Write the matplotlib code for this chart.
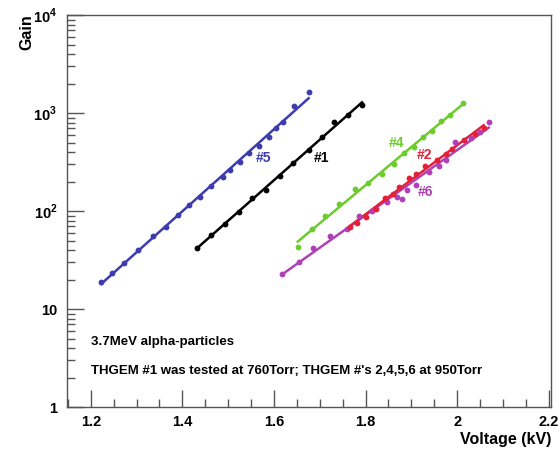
import numpy as np
import matplotlib
matplotlib.use("Agg")
import matplotlib.pyplot as plt
from matplotlib.ticker import FixedLocator, MultipleLocator, NullFormatter

plt.rcParams['font.family'] = ['Liberation Sans', 'DejaVu Sans']
plt.rcParams['mathtext.fontset'] = 'custom'
plt.rcParams['mathtext.rm'] = 'Liberation Sans:bold'
plt.rcParams['mathtext.bf'] = 'Liberation Sans:bold'

# THGEM #5
v5 = [1.2225, 1.2458, 1.2735, 1.3027, 1.3369, 1.3646, 1.3915, 1.4155, 1.4389, 1.4630,
      1.4877, 1.5045, 1.5248, 1.5446, 1.5679, 1.5883, 1.6051, 1.6197, 1.6444, 1.6757]
g5 = [19.0, 23.5, 29.2, 40, 55.6, 69, 91, 115, 140, 180,
      221, 262, 318, 387, 464, 573, 698, 817, 1178, 1650]

# THGEM #1
v1 = [1.4316, 1.4630, 1.4936, 1.5226, 1.5519, 1.5832, 1.6123, 1.6415, 1.6772, 1.7049,
      1.7318, 1.7617, 1.7923]
g1 = [42.2, 56.9, 73, 98.4, 134.6, 164, 228, 311, 419, 573, 804, 955, 1208]

# THGEM #4
v4 = [1.652, 1.683, 1.711, 1.741, 1.778, 1.806, 1.836, 1.862, 1.885, 1.905,
      1.925, 1.945, 1.965, 1.985, 2.013]
g4 = [43, 65, 88, 118, 167, 191, 237, 305, 395, 455, 570, 660, 820, 950, 1260]

# THGEM #2
v2 = [1.765, 1.782, 1.800, 1.822, 1.843, 1.860, 1.872, 1.894, 1.910, 1.929,
      1.956, 1.975, 1.989, 2.015, 2.040, 2.058]
g2 = [68, 76, 86, 106, 135, 150, 177, 215, 240, 288, 331, 385, 426, 530, 610, 700]

# THGEM #6
v6 = [1.617, 1.654, 1.685, 1.723, 1.760, 1.785, 1.815, 1.847, 1.868, 1.880,
      1.891, 1.910, 1.938, 1.960, 1.975, 1.996, 2.030, 2.050, 2.069]
g6 = [23, 30, 42, 56, 66, 88, 100, 124, 140, 132, 162, 185, 250, 290, 330, 505, 560, 640, 810]

series = [
    ("#5", v5, g5, "#3c3cae"),
    ("#1", v1, g1, "#000000"),
    ("#4", v4, g4, "#6ccc2e"),
    ("#6", v6, g6, "#b040b8"),
    ("#2", v2, g2, "#e3203a"),
]
label_pos = {"#5": (1.561, 348), "#1": (1.686, 348), "#4": (1.850, 494),
             "#2": (1.911, 372), "#6": (1.913, 156)}

fig = plt.figure(figsize=(5.6, 4.49), dpi=100)
ax = fig.add_axes([0.1196, 0.0935, 0.8643, 0.873])
ax.set_yscale('log')
ax.set_xlim(1.148, 2.205)
ax.set_ylim(1, 1e4)

for name, v, g, c in series:
    v = np.asarray(v)
    lg = np.log10(g)
    p = np.polyfit(v, lg, 1)
    xs = np.array([v.min(), v.max()])
    ax.plot(xs, 10 ** np.polyval(p, xs), color=c, lw=1.8, zorder=2)
    ax.plot(v, g, 'o', color=c, ms=4.2, mec='none', zorder=3)
    tx, ty = label_pos[name]
    ax.text(tx, ty, name, color=c, fontsize=10, fontweight='bold',
            ha='left', va='center')

# axes styling
for s in ax.spines.values():
    s.set_color('#555555')
    s.set_linewidth(1.0)
ax.set_xticks([1.2, 1.4, 1.6, 1.8, 2.0, 2.2])
ax.set_xticklabels(['1.2', '1.4', '1.6', '1.8', '2', '2.2'])
ax.xaxis.set_minor_locator(MultipleLocator(0.05))
ax.yaxis.set_major_locator(FixedLocator([1, 10, 100, 1000, 10000]))
ax.set_yticklabels(['1', '10', r'$10^{2}$', r'$10^{3}$', r'$10^{4}$'])
minor_y = [m * 10 ** e for e in range(0, 4) for m in range(2, 10)]
ax.yaxis.set_minor_locator(FixedLocator(minor_y))
ax.yaxis.set_minor_formatter(NullFormatter())
ax.tick_params(which='both', direction='in', color='#555555', width=1.0,
               top=False, right=False)
ax.tick_params(which='major', length=12, labelsize=10.5)
ax.tick_params(axis='x', which='major', pad=6)
ax.tick_params(axis='y', which='major', pad=7)
ax.tick_params(which='minor', length=6)
for lab in ax.get_xticklabels() + ax.get_yticklabels():
    lab.set_fontweight('bold')

ax.set_xlabel('Voltage (kV)', fontsize=11.5, fontweight='bold', loc='right', labelpad=2)
fig.text(27 / 560, 1 - 14 / 449, 'Gain', rotation=90, fontsize=11.5,
         fontweight='bold', ha='center', va='top')

ax.text(1.2, 4.6, '3.7MeV alpha-particles', fontsize=9.5, fontweight='bold',
        ha='left', va='center')
ax.text(1.2, 2.33, "THGEM #1 was tested at 760Torr; THGEM #'s 2,4,5,6 at 950Torr",
        fontsize=9.5, fontweight='bold', ha='left', va='center')

fig.savefig('out.png', dpi=100, facecolor='white')
